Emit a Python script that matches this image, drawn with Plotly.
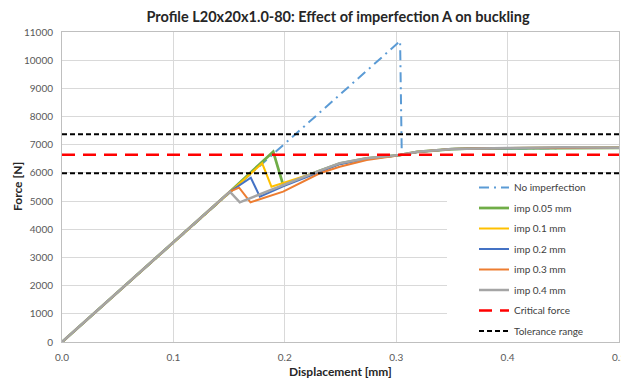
import plotly.graph_objects as go

# ---- data ----
no_imp_x = [0, 0.3035, 0.305, 0.319, 0.35, 0.37, 0.40, 0.45, 0.50]
no_imp_y = [0, 10680, 6660, 6740, 6840, 6865, 6875, 6890, 6885]

imp005_x = [0, 0.1507, 0.1896, 0.1985, 0.2314, 0.2493, 0.2735, 0.303, 0.319, 0.35, 0.37, 0.40, 0.45, 0.50]
imp005_y = [0, 5334, 6753, 5571, 6075, 6335, 6515, 6632, 6750, 6845, 6870, 6880, 6900, 6890]

imp01_x = [0, 0.1507, 0.162, 0.1797, 0.188, 0.2314, 0.2493, 0.2735, 0.303, 0.319, 0.35, 0.37, 0.40, 0.45, 0.50]
imp01_y = [0, 5334, 5720, 6341, 5511, 6060, 6320, 6510, 6630, 6748, 6845, 6870, 6880, 6900, 6890]

imp02_x = [0, 0.1507, 0.1695, 0.1776, 0.1985, 0.2314, 0.2493, 0.2735, 0.303, 0.319, 0.35, 0.37, 0.40, 0.45, 0.50]
imp02_y = [0, 5334, 5830, 5156, 5520, 6050, 6310, 6505, 6630, 6745, 6845, 6870, 6880, 6900, 6890]

imp03_x = [0, 0.1507, 0.159, 0.1692, 0.1985, 0.2314, 0.2493, 0.2735, 0.303, 0.319, 0.35, 0.37, 0.40, 0.45, 0.50]
imp03_y = [0, 5334, 5476, 4957, 5334, 5987, 6221, 6459, 6630, 6745, 6845, 6870, 6880, 6895, 6890]

imp04_x = [0, 0.1507, 0.1596, 0.1985, 0.2314, 0.2493, 0.2735, 0.303, 0.319, 0.35, 0.37, 0.40, 0.45, 0.50]
imp04_y = [0, 5334, 4957, 5571, 6079, 6341, 6519, 6636, 6753, 6849, 6874, 6885, 6910, 6895]

critical_force = 6640
tolerance_low = 5990
tolerance_high = 7370
x_range = [0, 0.5]

series = [
    ("No imperfection", no_imp_x, no_imp_y, "#5B9BD5", 2, "10px,5px,2px,5px"),
    ("imp 0.05 mm", imp005_x, imp005_y, "#70AD47", 2.75, "solid"),
    ("imp 0.1 mm", imp01_x, imp01_y, "#FFC000", 2, "solid"),
    ("imp 0.2 mm", imp02_x, imp02_y, "#4472C4", 2, "solid"),
    ("imp 0.3 mm", imp03_x, imp03_y, "#ED7D31", 2, "solid"),
    ("imp 0.4 mm", imp04_x, imp04_y, "#A5A5A5", 2.5, "solid"),
]

fig = go.Figure()
for i, (name, xs, ys, col, w, dash) in enumerate(series):
    fig.add_trace(go.Scatter(x=xs, y=ys, mode="lines", name=name, legendgroup=f"g{i}",
                             line=dict(color=col, width=w, dash=dash)))

fig.add_trace(go.Scatter(x=x_range, y=[critical_force, critical_force], mode="lines",
                         name="Critical force", legendgroup="gc",
                         line=dict(color="#FF0000", width=2.5, dash="13px,8px")))
fig.add_trace(go.Scatter(x=[x_range[0], x_range[1], None, x_range[0], x_range[1]],
                         y=[tolerance_high, tolerance_high, None, tolerance_low, tolerance_low],
                         mode="lines", name="Tolerance range", legendgroup="gt",
                         line=dict(color="#000000", width=2, dash="5px,3px")))

FONT = "Lato, 'Noto Sans', sans-serif"
W, H = 621, 378
L, R, T, B = 62, 2, 32, 36
pw = W - L - R
ph = H - T - B

def px2paper_x(px):
    return (px - L) / pw

def px2paper_y(py):
    return (H - B - py) / ph

fig.add_shape(type="rect", xref="paper", yref="paper",
              x0=px2paper_x(447), x1=1, y0=0, y1=px2paper_y(176),
              fillcolor="white", line=dict(width=0), layer="above")

fig.add_annotation(text="<b>Displacement [mm]</b>", xref="paper", yref="paper",
                   x=px2paper_x(340), y=px2paper_y(371), xanchor="center", yanchor="middle",
                   showarrow=False, font=dict(family=FONT, size=12, color="#262626"))
fig.add_annotation(text="<b>Force [N]</b>", xref="paper", yref="paper",
                   x=px2paper_x(17), y=px2paper_y(187), xanchor="center", yanchor="middle",
                   textangle=-90, showarrow=False, font=dict(family=FONT, size=12, color="#262626"))

fig.update_layout(
    width=W, height=H,
    margin=dict(l=L, r=R, t=T, b=B, autoexpand=False),
    paper_bgcolor="white", plot_bgcolor="white",
    font=dict(family=FONT, size=10, color="#595959"),
    title=dict(text="Profile L20x20x1.0-80: Effect of imperfection A on buckling",
               x=px2paper_x(338), xref="paper", xanchor="center", y=1 - 17 / H, yanchor="middle",
               font=dict(family=FONT, size=14.5, color="#262626", weight="bold")),
    showlegend=True,
    legend=dict(x=px2paper_x(474), y=px2paper_y(173), xanchor="left", yanchor="top",
                bgcolor="rgba(0,0,0,0)", borderwidth=0,
                font=dict(family=FONT, size=10, color="#404040"),
                tracegroupgap=1.5, itemwidth=30),
)

fig.update_xaxes(range=x_range, dtick=0.1, tickformat=".1f", showgrid=True, automargin=False,
                 gridcolor="#D9D9D9", gridwidth=1, showline=True, linecolor="#BFBFBF",
                 linewidth=1, mirror=True, zeroline=False, ticks="",
                 ticklabelstandoff=6, ticklabeloverflow="allow",
                 tickfont=dict(family=FONT, size=10, color="#595959"))
fig.update_yaxes(range=[0, 11000], dtick=1000, tickformat="d", showgrid=True, automargin=False,
                 gridcolor="#D9D9D9",
                 gridwidth=1, showline=True, linecolor="#BFBFBF", linewidth=1, mirror=True,
                 zeroline=False, ticks="", ticklabelstandoff=6,
                 tickfont=dict(family=FONT, size=10, color="#595959"))

fig.write_html("out.html", config={"displayModeBar": False},
               post_script="document.body.style.margin='0';document.body.style.padding='0';")
